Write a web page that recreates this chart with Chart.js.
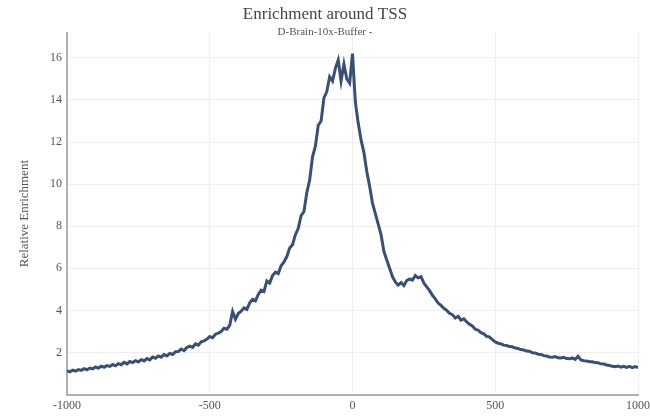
<!DOCTYPE html>
<html>
<head>
<meta charset="utf-8">
<script src="https://cdn.jsdelivr.net/npm/chart.js@4/dist/chart.umd.min.js"></script>
<style>
  body { margin: 0; background: #fff; }
  #wrap { width: 650px; height: 420px; }
</style>
</head>
<body>
<div id="wrap"><canvas id="myChart" width="650" height="420"></canvas></div>
<script>
// distance to TSS (bp), one reading every 10 bp
var positions = [];
for (var p = -1000; p <= 1000; p += 10) positions.push(p);

// relative enrichment
var enrichment = [
  1.12, 1.08, 1.16, 1.12, 1.19, 1.15, 1.23, 1.18, 1.26, 1.22,
  1.31, 1.26, 1.35, 1.30, 1.38, 1.34, 1.43, 1.37, 1.47, 1.42,
  1.53, 1.46, 1.57, 1.52, 1.61, 1.55, 1.66, 1.60, 1.71, 1.65,
  1.79, 1.73, 1.84, 1.78, 1.90, 1.84, 1.96, 1.91, 2.04, 2.05,
  2.16, 2.09, 2.24, 2.30, 2.24, 2.41, 2.35, 2.51, 2.55, 2.64,
  2.76, 2.70, 2.87, 2.92, 3.00, 3.15, 3.11, 3.29, 3.95, 3.58,
  3.85, 3.96, 4.12, 4.05, 4.36, 4.52, 4.45, 4.76, 4.96, 4.90,
  5.40, 5.30, 5.66, 5.82, 5.75, 6.12, 6.30, 6.56, 6.96, 7.12,
  7.60, 7.90, 8.50, 8.70, 9.60, 10.2, 11.3, 11.8, 12.8, 13.0,
  14.1, 14.4, 15.1, 14.9, 15.5, 15.9, 14.9, 15.7, 15.0, 14.8,
  16.2, 13.9, 12.9, 12.1, 11.5, 10.6, 9.90, 9.10, 8.60, 8.10,
  7.60, 6.80, 6.40, 6.00, 5.60, 5.35, 5.20, 5.32, 5.18, 5.42,
  5.50, 5.44, 5.66, 5.55, 5.60, 5.30, 5.12, 4.94, 4.72, 4.55,
  4.35, 4.24, 4.10, 4.00, 3.86, 3.80, 3.64, 3.72, 3.54, 3.60,
  3.45, 3.34, 3.26, 3.11, 3.06, 2.94, 2.89, 2.77, 2.73, 2.61,
  2.50, 2.44, 2.41, 2.35, 2.33, 2.28, 2.27, 2.21, 2.19, 2.14,
  2.12, 2.07, 2.06, 1.99, 1.98, 1.92, 1.91, 1.85, 1.83, 1.79,
  1.78, 1.81, 1.75, 1.74, 1.77, 1.71, 1.70, 1.74, 1.67, 1.82,
  1.65, 1.61, 1.60, 1.56, 1.56, 1.52, 1.51, 1.46, 1.45, 1.41,
  1.38, 1.35, 1.33, 1.36, 1.30, 1.34, 1.29, 1.34, 1.28, 1.33,
  1.28
];

var xTicks = [-1000, -500, 0, 500, 1000];
var yTicks = [2, 4, 6, 8, 10, 12, 14, 16];

var serif = '"Liberation Serif", "Times New Roman", serif';

function createConfig(xs, ys) {
  var points = [];
  for (var i = 0; i < xs.length; i++) {
    points.push({ x: xs[i], y: ys[i] });
  }

  var config = {
    type: 'line',
    data: {
      datasets: [{
        label: 'Relative Enrichment',
        data: points,
        borderColor: '#3a4f74',
        backgroundColor: '#3a4f74',
        borderWidth: 3,
        pointRadius: 0,
        tension: 0
      }]
    },
    options: {
      responsive: false,
      animation: false,
      layout: { padding: { left: 0, right: 0, top: 0, bottom: 3 } },
      plugins: {
        legend: { display: false },
        tooltip: { enabled: false },
        title: {
          display: true,
          text: 'Enrichment around TSS',
          color: '#444',
          font: { family: serif, size: 17, weight: 'normal' },
          padding: { top: 4, bottom: 0 }
        },
        subtitle: {
          display: true,
          text: 'D-Brain-10x-Buffer -',
          color: '#555',
          font: { family: serif, size: 11, weight: 'normal' },
          padding: { top: 1, bottom: -6 }
        }
      },
      scales: {
        x: {
          type: 'linear',
          min: -1000,
          max: 1000,
          afterBuildTicks: function (axis) {
            axis.ticks = xTicks.map(function (v) { return { value: v }; });
          },
          afterFit: function (axis) { axis.paddingRight = 12; },
          ticks: {
            color: '#555',
            font: { family: serif, size: 12 },
            padding: 4,
            maxRotation: 0,
            callback: function (v) { return String(v); }
          },
          grid: { color: '#eeeeee', drawTicks: false },
          border: { display: true, color: '#b0b0b0', width: 2 }
        },
        y: {
          min: 0,
          max: 17.2,
          afterBuildTicks: function (axis) {
            axis.ticks = yTicks.map(function (v) { return { value: v }; });
          },
          afterFit: function (axis) { axis.width = 67; },
          ticks: {
            color: '#555',
            font: { family: serif, size: 12 },
            padding: 5
          },
          grid: { color: '#eeeeee', drawTicks: false },
          border: { display: true, color: '#b0b0b0', width: 2 },
          title: {
            display: true,
            text: 'Relative Enrichment',
            color: '#555',
            font: { family: serif, size: 13 },
            padding: { top: 17, bottom: 0 }
          }
        }
      }
    }
  };
  return config;
}

var ctx = document.getElementById('myChart').getContext('2d');
window.myLine = new Chart(ctx, createConfig(positions, enrichment));
</script>
</body>
</html>
